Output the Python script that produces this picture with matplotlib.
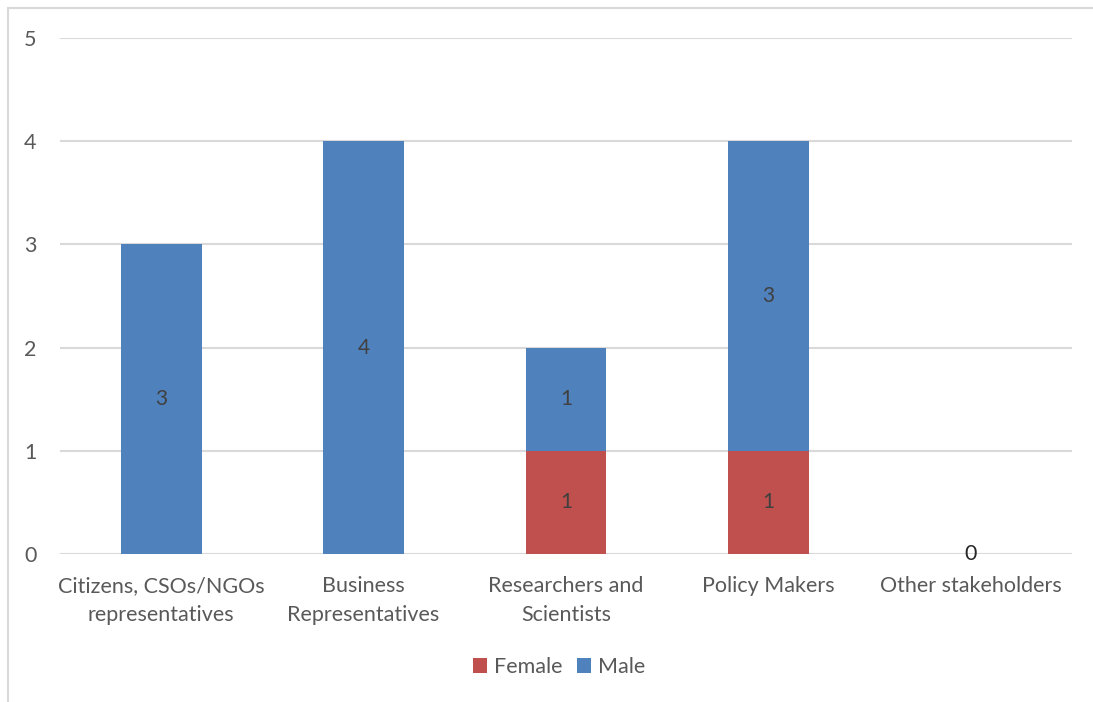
import matplotlib
matplotlib.use("Agg")
import matplotlib.pyplot as plt
from matplotlib.patches import Rectangle
import numpy as np

categories = ["Citizens, CSOs/NGOs\nrepresentatives", "Business\nRepresentatives",
              "Researchers and\nScientists", "Policy Makers", "Other stakeholders"]
female = [0, 0, 1, 1, 0]
male = [3, 4, 1, 3, 0]
yticks = [0, 1, 2, 3, 4, 5]

FEMALE_C = "#C0504D"
MALE_C = "#4F81BD"
TXT = "#595959"

plt.rcParams['font.family'] = ['Lato', 'DejaVu Sans']

W, H = 1093, 702
fig = plt.figure(figsize=(W/100, H/100), dpi=100)
ax = fig.add_axes([60/W, 148/H, (1072-60)/W, (554-38)/H])

# outer frame
fig.patches.append(Rectangle((7.5/W, -0.1), 1.2, (H-8)/H + 0.1, transform=fig.transFigure,
                             fill=False, edgecolor="#D9D9D9", linewidth=1.5))

x = np.arange(len(categories))
ax.bar(x, female, width=0.4, color=FEMALE_C, label="Female", zorder=3)
ax.bar(x, male, width=0.4, bottom=female, color=MALE_C, label="Male", zorder=3)

for i in range(len(categories)):
    if female[i] > 0:
        ax.text(x[i], female[i]/2, str(female[i]), ha="center", va="center",
                fontsize=15, color="#404040", zorder=4)
    if male[i] > 0:
        ax.text(x[i], female[i] + male[i]/2, str(male[i]), ha="center", va="center",
                fontsize=15, color="#404040", zorder=4)
    if female[i] == 0 and male[i] == 0:
        ax.text(x[i], 0, "0", ha="center", va="center", fontsize=15.5,
                color="#262626", zorder=4)

ax.set_xlim(-0.5, len(categories) - 0.5)
ax.set_ylim(0, 5)
ax.set_yticks(yticks)
ax.set_xticks(x)
ax.set_xticklabels(categories, fontsize=15.5, color=TXT, linespacing=1.55)
ax.tick_params(axis="y", labelsize=15.5, labelcolor=TXT, length=0, pad=17)
ax.tick_params(axis="x", length=0, pad=16)
ax.grid(axis="y", color="#D9D9D9", linewidth=1.5, zorder=0)
for s in ax.spines.values():
    s.set_visible(False)

leg = fig.legend(loc="center", bbox_to_anchor=(559/W, 1 - 667/H), ncol=2, frameon=False,
                 fontsize=15.5, handlelength=0.65, handleheight=0.65, handletextpad=0.35,
                 columnspacing=0.65)
for t in leg.get_texts():
    t.set_color(TXT)

fig.savefig("out.png", dpi=100)
